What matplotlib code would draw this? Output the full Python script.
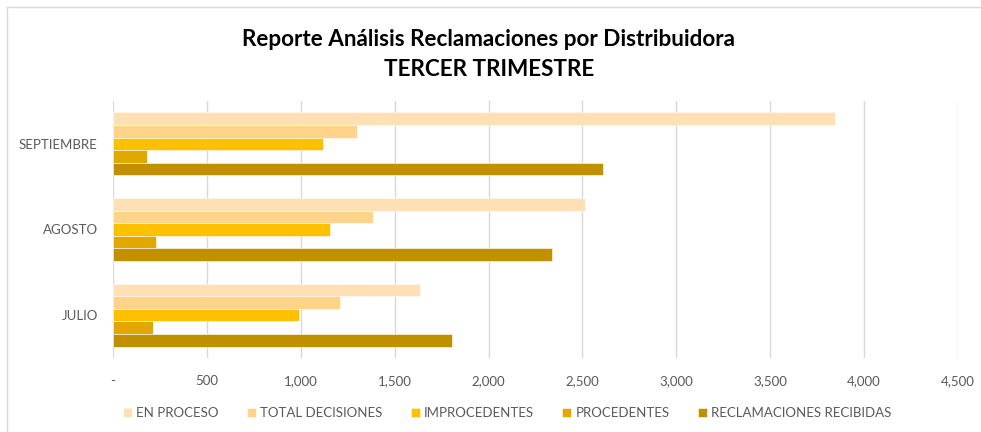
import matplotlib
matplotlib.use("Agg")
import matplotlib.pyplot as plt
from matplotlib.lines import Line2D
from matplotlib.ticker import FuncFormatter
import numpy as np

plt.rcParams['font.family'] = ['Lato', 'DejaVu Sans']

months = ["JULIO", "AGOSTO", "SEPTIEMBRE"]
series_names = ["EN PROCESO", "TOTAL DECISIONES", "IMPROCEDENTES", "PROCEDENTES", "RECLAMACIONES RECIBIDAS"]
en_proceso = [1633, 2516, 3843]
total_decisiones = [1207, 1387, 1300]
improcedentes = [991, 1153, 1120]
procedentes = [213, 231, 183]
reclamaciones = [1804, 2336, 2612]
colors = ["#FFE0B5", "#FFD38A", "#FFC000", "#E0A800", "#C09000"]
xticks = [0, 500, 1000, 1500, 2000, 2500, 3000, 3500, 4000, 4500]

W, H = 981, 432
fig = plt.figure(figsize=(W / 100, H / 100), dpi=100)
ax = fig.add_axes([113 / W, 1 - 358 / H, (958 - 113) / W, (358 - 101) / H])

data = [en_proceso, total_decisiones, improcedentes, procedentes, reclamaciones]
y = np.arange(len(months))
h = 12.6 / 85.7
offsets = [2 * h, h, 0, -h, -2 * h]
for vals, off, c, name in zip(data, offsets, colors, series_names):
    ax.barh(y + off, vals, height=h, color=c, edgecolor="white", linewidth=0.4,
            label=name, zorder=3)

ax.set_xlim(0, 4500)
ax.set_ylim(-0.5, 2.5)
ax.set_xticks(xticks)
ax.xaxis.set_major_formatter(FuncFormatter(lambda v, p: "-" if v == 0 else f"{int(v):,}"))
ax.set_yticks(y)
ax.set_yticklabels(months)
ax.grid(axis="x", color="#D9D9D9", linewidth=1, zorder=0)
for s in ax.spines.values():
    s.set_visible(False)
ax.tick_params(axis="both", length=0, colors="#595959", labelsize=9.5)
ax.tick_params(axis="x", pad=12)
ax.tick_params(axis="y", pad=11)

fig.text(489 / W, 1 - 40 / H, "Reporte Análisis Reclamaciones por Distribuidora",
         ha="center", va="center", fontsize=16.2, fontweight="bold", color="black")
fig.text(489 / W, 1 - 70 / H, "TERCER TRIMESTRE",
         ha="center", va="center", fontsize=16.2, fontweight="bold", color="black")

leg = fig.legend(loc="center", bbox_to_anchor=(507 / W, 1 - 413 / H), ncol=5,
                 frameon=False, fontsize=9.5, handlelength=0.7, handleheight=0.7,
                 handletextpad=0.3, columnspacing=2.15, labelcolor="#595959")

fig.add_artist(Line2D([7 / W, 7 / W], [0, 1 - 7 / H], transform=fig.transFigure,
                      color="#D9D9D9", linewidth=1))
fig.add_artist(Line2D([7 / W, 1], [1 - 7 / H, 1 - 7 / H], transform=fig.transFigure,
                      color="#D9D9D9", linewidth=1))

fig.savefig("out.png", dpi=100)
